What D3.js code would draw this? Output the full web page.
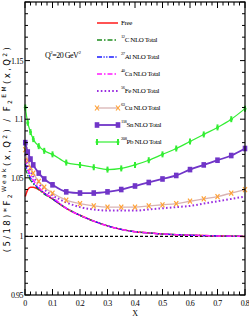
<!DOCTYPE html>
<html>
<head>
<meta charset="utf-8">
<script src="https://cdn.jsdelivr.net/npm/d3@7"></script>
<style>
  body { margin: 0; background: #fff; }
  svg text { font-family: "Liberation Serif", serif; fill: #000; }
  .tick-label { font-size: 8px; letter-spacing: -0.5px; }
  .legend-label { font-size: 7px; letter-spacing: -0.4px; }
  .ylab { font-family: "DejaVu Sans", sans-serif; font-size: 8.5px; }
</style>
</head>
<body>
<div id="vis"></div>
<script>
// x values where the curves were computed
var xs = [0.001, 0.01, 0.02, 0.03, 0.05, 0.07, 0.1, 0.15, 0.2, 0.25, 0.3, 0.35, 0.4, 0.45, 0.5, 0.55, 0.6, 0.65, 0.7, 0.75, 0.8];

// ratio values
var free  = [1.034, 1.040, 1.042, 1.042, 1.040, 1.037, 1.032, 1.024, 1.018, 1.013, 1.009, 1.006, 1.004, 1.003, 1.002, 1.0015, 1.001, 1.0007, 1.0004, 1.0002, 1.0];
var c12   = [1.058, 1.052, 1.048, 1.045, 1.040, 1.036, 1.032, 1.024, 1.018, 1.013, 1.009, 1.006, 1.004, 1.003, 1.002, 1.0015, 1.001, 1.0007, 1.0004, 1.0002, 1.0];
var al27  = [1.062, 1.055, 1.050, 1.046, 1.041, 1.037, 1.032, 1.024, 1.018, 1.013, 1.009, 1.006, 1.004, 1.003, 1.002, 1.0015, 1.001, 1.0007, 1.0004, 1.0002, 1.0];
var ca40  = [1.066, 1.058, 1.052, 1.048, 1.042, 1.037, 1.033, 1.024, 1.018, 1.013, 1.009, 1.006, 1.004, 1.003, 1.002, 1.0015, 1.001, 1.0007, 1.0004, 1.0002, 1.0];
var fe56  = [1.070, 1.062, 1.056, 1.051, 1.045, 1.040, 1.035, 1.029, 1.025, 1.023, 1.022, 1.022, 1.022, 1.023, 1.024, 1.025, 1.026, 1.028, 1.030, 1.032, 1.034];
var cu63  = [1.074, 1.065, 1.059, 1.054, 1.047, 1.042, 1.037, 1.031, 1.028, 1.026, 1.025, 1.025, 1.025, 1.026, 1.027, 1.028, 1.030, 1.032, 1.034, 1.037, 1.040];
var sn118 = [1.080, 1.072, 1.066, 1.061, 1.054, 1.049, 1.044, 1.038, 1.037, 1.037, 1.038, 1.040, 1.043, 1.046, 1.049, 1.052, 1.057, 1.061, 1.065, 1.069, 1.075];
var pb208 = [1.110, 1.097, 1.089, 1.083, 1.077, 1.073, 1.070, 1.063, 1.061, 1.059, 1.057, 1.058, 1.061, 1.065, 1.070, 1.075, 1.081, 1.087, 1.093, 1.100, 1.109];

// tick labels
var xTicks = [0, 0.1, 0.2, 0.3, 0.4, 0.5, 0.6, 0.7, 0.8];
var xTickLabels = ['0', '0.1', '0.2', '0.3', '0.4', '0.5', '0.6', '0.7', '0.8'];
var yTicks = [0.95, 1, 1.05, 1.1, 1.15];
var yTickLabels = ['0.95', '1', '1.05', '1.1', '1.15'];

// legend entries (mass number, element)
var legendMass = ['', '12', '27', '40', '56', '63', '118', '208'];
var legendName = ['Free', 'C NLO Total', 'Al NLO Total', 'Ca NLO Total', 'Fe NLO Total', 'Cu NLO Total', 'Sn NLO Total', 'Pb NLO Total'];

var W = 249, H = 320;
var margin = { left: 25, right: 4, top: 2, bottom: 25 };
var width = W - margin.left - margin.right;
var height = H - margin.top - margin.bottom;

var svg = d3.select('#vis').append('svg')
    .attr('width', W)
    .attr('height', H);

var xScale = d3.scaleLinear().domain([0, 0.8]).range([margin.left, margin.left + width]);
var yScale = d3.scaleLinear().domain([0.95, 1.2]).range([margin.top + height, margin.top]);

// series styles
var series = [
    { vals: free,  color: '#ff1a1a', w: 1.5, dash: null },
    { vals: c12,   color: '#1e8c1e', w: 1.3, dash: '5,2,1.5,2' },
    { vals: al27,  color: '#1a1aff', w: 1.3, dash: '5,1.5,1.2,1.5,1.2,1.5' },
    { vals: ca40,  color: '#ff1aff', w: 1.5, dash: '5,2,1.5,2' },
    { vals: fe56,  color: '#9a2ee0', w: 2,   dash: '1.6,2.2' },
    { vals: cu63,  color: '#d9b3b3', w: 1.3, dash: null, marker: 'x', mcolor: '#ffa236' },
    { vals: sn118, color: '#7035c8', w: 1.8, dash: null, marker: 'sq', mcolor: '#7035c8' },
    { vals: pb208, color: '#33ee33', w: 1.2, dash: null, marker: 'bar', mcolor: '#33ee33' }
];

var plot = svg.append('g');

// reference line at 1
plot.append('line')
    .attr('x1', xScale(0)).attr('x2', xScale(0.8))
    .attr('y1', yScale(1)).attr('y2', yScale(1))
    .attr('stroke', '#000').attr('stroke-width', 1.3)
    .attr('stroke-dasharray', '3,2');

var line = d3.line()
    .x(function(d) { return xScale(d[0]); })
    .y(function(d) { return yScale(d[1]); })
    .curve(d3.curveMonotoneX);

// draw a marker shape at a point
function drawMarker(g, type, color, x, y) {
    if (type === 'x') {
        g.append('path')
            .attr('d', 'M' + (x - 2) + ',' + (y - 2.5) + 'L' + (x + 2) + ',' + (y + 2.5) +
                       'M' + (x - 2) + ',' + (y + 2.5) + 'L' + (x + 2) + ',' + (y - 2.5))
            .attr('stroke', color).attr('stroke-width', 1.2).attr('fill', 'none');
    } else if (type === 'sq') {
        g.append('rect')
            .attr('x', x - 2.3).attr('y', y - 2.8)
            .attr('width', 4.6).attr('height', 5.6)
            .attr('fill', color);
    } else if (type === 'bar') {
        g.append('line')
            .attr('x1', x).attr('x2', x).attr('y1', y - 3).attr('y2', y + 3)
            .attr('stroke', color).attr('stroke-width', 2);
        g.append('circle')
            .attr('cx', x).attr('cy', y).attr('r', 1.5)
            .attr('fill', color);
    }
}

series.forEach(function(s) {
    var pts = xs.map(function(x, i) { return [x, s.vals[i]]; });
    plot.append('path')
        .datum(pts)
        .attr('d', line)
        .attr('fill', 'none')
        .attr('stroke', s.color)
        .attr('stroke-width', s.w)
        .attr('stroke-dasharray', s.dash);
    if (s.marker) {
        var mg = plot.append('g');
        pts.forEach(function(p) {
            drawMarker(mg, s.marker, s.mcolor, xScale(p[0]), yScale(p[1]));
        });
    }
});

// frame
svg.append('rect')
    .attr('x', margin.left).attr('y', margin.top)
    .attr('width', width).attr('height', height)
    .attr('fill', 'none').attr('stroke', '#000').attr('stroke-width', 1.2);

// ticks, inward on all four sides
var axes = svg.append('g').attr('stroke', '#000').attr('stroke-width', 1);
d3.range(0, 0.8001, 0.02).forEach(function(v) {
    var major = Math.abs(v * 10 - Math.round(v * 10)) < 1e-6;
    var len = major ? 6 : 3.5;
    var x = xScale(v);
    axes.append('line').attr('x1', x).attr('x2', x)
        .attr('y1', yScale(0.95)).attr('y2', yScale(0.95) - len);
    axes.append('line').attr('x1', x).attr('x2', x)
        .attr('y1', yScale(1.2)).attr('y2', yScale(1.2) + len);
});
d3.range(0.95, 1.2001, 0.01).forEach(function(v) {
    var major = Math.abs(v * 20 - Math.round(v * 20)) < 1e-6;
    var len = major ? 5 : 3;
    var y = yScale(v);
    axes.append('line').attr('x1', xScale(0)).attr('x2', xScale(0) + len)
        .attr('y1', y).attr('y2', y);
    axes.append('line').attr('x1', xScale(0.8)).attr('x2', xScale(0.8) - len)
        .attr('y1', y).attr('y2', y);
});

// tick labels
svg.selectAll('.xtl').data(xTicks).enter().append('text')
    .attr('class', 'tick-label')
    .attr('x', function(d) { return xScale(d); })
    .attr('y', yScale(0.95) + 11)
    .attr('text-anchor', 'middle')
    .text(function(d, i) { return xTickLabels[i]; });

svg.selectAll('.ytl').data(yTicks).enter().append('text')
    .attr('class', 'tick-label')
    .attr('x', xScale(0) - 2)
    .attr('y', function(d) { return yScale(d) + 3; })
    .attr('text-anchor', 'end')
    .text(function(d, i) { return yTickLabels[i]; });

// axis titles
svg.append('text')
    .attr('class', 'tick-label')
    .attr('x', xScale(0.4)).attr('y', 316)
    .attr('text-anchor', 'middle')
    .text('X');

var yl = svg.append('text')
    .attr('class', 'ylab')
    .attr('transform', 'translate(10,' + (margin.top + height / 2) + ') rotate(-90)')
    .attr('text-anchor', 'middle')
    .attr('letter-spacing', '2.4px');
yl.append('tspan').text('(5/18)*F');
yl.append('tspan').attr('font-size', '6px').attr('dy', 2).text('2');
yl.append('tspan').attr('font-size', '6px').attr('dy', -6).text('Weak');
yl.append('tspan').attr('dy', 4).text('(x,Q');
yl.append('tspan').attr('font-size', '6px').attr('dy', -3).text('2');
yl.append('tspan').attr('dy', 3).text(') / F');
yl.append('tspan').attr('font-size', '6px').attr('dy', 2).text('2');
yl.append('tspan').attr('font-size', '6px').attr('dy', -6).text('EM');
yl.append('tspan').attr('dy', 4).text('(x,Q');
yl.append('tspan').attr('font-size', '6px').attr('dy', -3).text('2');
yl.append('tspan').attr('dy', 3).text(')');

// Q^2 annotation
var q = svg.append('text')
    .attr('class', 'tick-label')
    .attr('x', 45).attr('y', 58);
q.append('tspan').text('Q');
q.append('tspan').attr('font-size', '5px').attr('dy', -4).text('2');
q.append('tspan').attr('dy', 4).text('=20 GeV');
q.append('tspan').attr('font-size', '5px').attr('dy', -4).text('2');

// legend
var lg = svg.append('g');
legendName.forEach(function(name, i) {
    var s = series[i];
    var y = 23 + i * 17;
    lg.append('line')
        .attr('x1', 97).attr('x2', 118).attr('y1', y).attr('y2', y)
        .attr('stroke', s.color).attr('stroke-width', s.w)
        .attr('stroke-dasharray', s.dash);
    if (s.marker) {
        drawMarker(lg, s.marker, s.mcolor, 97, y);
        drawMarker(lg, s.marker, s.mcolor, 118, y);
    }
    var t = lg.append('text').attr('class', 'legend-label')
        .attr('x', 121).attr('y', y + 2);
    if (legendMass[i]) {
        t.append('tspan').attr('font-size', '4.5px').attr('dy', -4).text(legendMass[i]);
        t.append('tspan').attr('dy', 4).text(name);
    } else {
        t.text(name);
    }
});
</script>
</body>
</html>
